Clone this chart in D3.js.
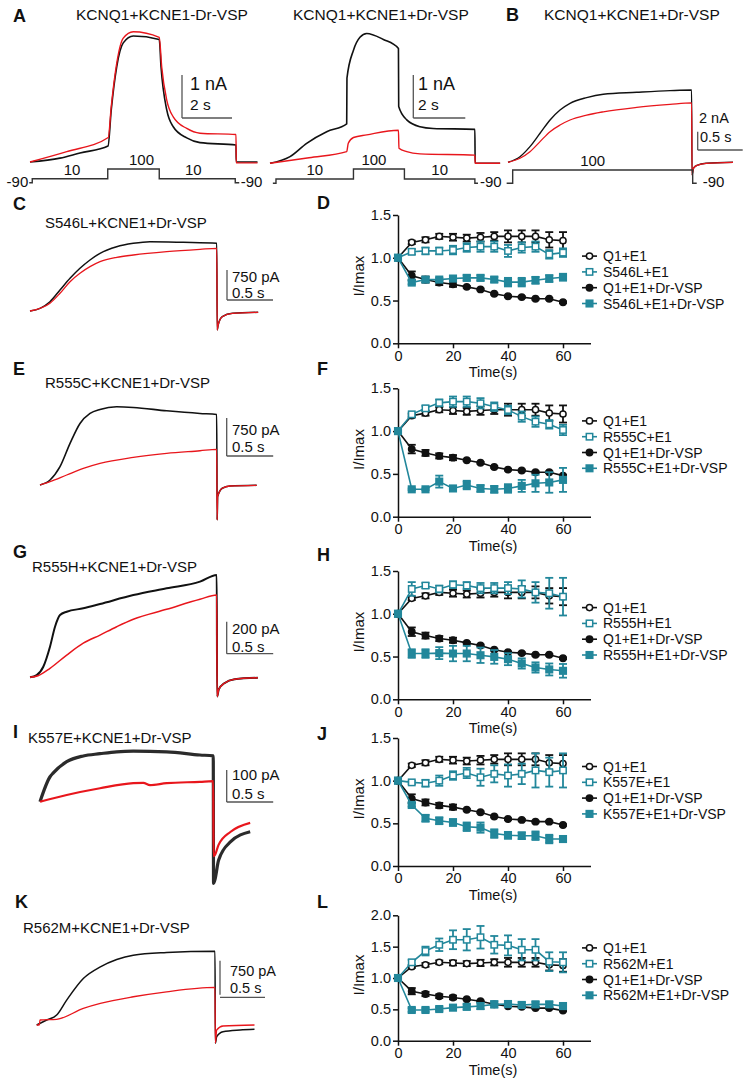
<!DOCTYPE html>
<html><head><meta charset="utf-8">
<script src="https://cdn.jsdelivr.net/npm/d3@7"></script>
<style>
body{margin:0;background:#fff}
svg text{font-family:"Liberation Sans",Arial,Helvetica,sans-serif;fill:#111}
</style></head>
<body><svg id="fig" width="748" height="1081"></svg>
<script>
// ---------------- DATA: summary plots (I/Imax vs time) ----------------
const timePoints = [0,5,10,15,20,25,30,35,40,45,50,55,60];
const xTicks = [0,20,40,60];
const yTicks15 = [0,0.5,1.0,1.5];
const yTicks20 = [0,0.5,1.0,1.5,2.0];

const q1e1Mean = [1.0,1.18,1.21,1.25,1.24,1.23,1.24,1.25,1.25,1.25,1.25,1.21,1.20];
const q1e1Err  = [0,0.02,0.03,0.03,0.04,0.04,0.05,0.05,0.07,0.07,0.07,0.09,0.10];
const q1VspMean = [1.0,0.79,0.745,0.71,0.69,0.66,0.63,0.58,0.55,0.54,0.52,0.52,0.48];
const q1VspErr  = [0,0.05,0.035,0.03,0.03,0.01,0.01,0.01,0.01,0.01,0.01,0.01,0.01];

const s546lE1Mean = [1.0,1.07,1.08,1.08,1.09,1.12,1.13,1.13,1.08,1.12,1.13,1.04,1.06];
const s546lE1Err  = [0,0.03,0.04,0.04,0.05,0.05,0.06,0.06,0.07,0.06,0.06,0.05,0.05];
const s546lVspMean = [1.0,0.71,0.745,0.745,0.757,0.765,0.765,0.745,0.715,0.715,0.737,0.757,0.773];
const s546lVspErr  = [0,0.02,0.03,0.02,0.03,0.03,0.03,0.03,0.05,0.05,0.04,0.04,0.04];

const r555cE1Mean = [1.0,1.196,1.266,1.33,1.344,1.344,1.325,1.285,1.247,1.169,1.11,1.079,1.013];
const r555cE1Err  = [0,0.02,0.03,0.04,0.06,0.06,0.06,0.05,0.05,0.06,0.06,0.05,0.06];
const r555cVspMean = [1.0,0.32,0.32,0.41,0.33,0.37,0.33,0.32,0.33,0.36,0.39,0.40,0.43];
const r555cVspErr  = [0,0.01,0.01,0.07,0.03,0.05,0.04,0.04,0.05,0.07,0.10,0.12,0.14];

const r555hE1Mean = [1.0,1.29,1.33,1.29,1.34,1.33,1.30,1.30,1.30,1.29,1.25,1.24,1.20];
const r555hE1Err  = [0,0.08,0.03,0.04,0.04,0.04,0.06,0.06,0.07,0.10,0.12,0.18,0.22];
const r555hVspMean = [1.0,0.535,0.535,0.54,0.535,0.535,0.515,0.496,0.469,0.419,0.372,0.349,0.333];
const r555hVspErr  = [0,0.05,0.05,0.07,0.09,0.09,0.09,0.08,0.07,0.06,0.06,0.07,0.08];

const k557eE1Mean = [1.0,0.98,0.97,1.0,1.06,1.09,1.04,1.08,1.06,1.08,1.12,1.10,1.12];
const k557eE1Err  = [0,0.02,0.04,0.06,0.05,0.06,0.10,0.10,0.13,0.12,0.20,0.17,0.20];
const k557eVspMean = [1.0,0.715,0.56,0.53,0.51,0.46,0.45,0.38,0.36,0.355,0.355,0.316,0.316];
const k557eVspErr  = [0,0.02,0.04,0.04,0.04,0.05,0.06,0.05,0.04,0.04,0.05,0.05,0.03];

const r562mE1Mean = [1.0,1.25,1.43,1.53,1.61,1.61,1.65,1.53,1.52,1.45,1.45,1.26,1.25];
const r562mE1Err  = [0,0.04,0.07,0.10,0.15,0.17,0.18,0.14,0.16,0.17,0.17,0.15,0.16];
const r562mVspMean = [1.0,0.49,0.49,0.505,0.527,0.54,0.553,0.58,0.585,0.57,0.58,0.58,0.553];
const r562mVspErr  = [0,0.03,0.03,0.03,0.04,0.04,0.05,0.05,0.05,0.04,0.04,0.04,0.05];

// ---------------- DATA: current traces [time (s), current] ----------------
// A (nA)
const traceA1Black = [[0,0],[1.2,0.09],[2,0.21],[3.12,0.37],[3.25,1.21],[3.47,2.22],[3.73,2.77],[4.13,2.93],[5.17,2.85],[5.24,2.22],[5.47,1.21],[5.73,0.82],[6.27,0.56],[6.8,0.45],[8.24,0.395],[8.25,0],[9.1,0]];
const traceA1Red   = [[0,0],[1.47,0.24],[3.13,0.57],[3.25,1.29],[3.47,2.3],[3.73,2.88],[4.13,3.03],[5.17,2.9],[5.27,2.2],[5.47,1.44],[5.73,1.05],[6.27,0.78],[6.8,0.67],[8.24,0.64],[8.25,-0.02],[9.1,-0.02]];
const traceA2Black = [[0,0],[0.77,0.155],[1.41,0.465],[2.18,0.735],[2.95,0.915],[2.96,1.98],[3.21,2.63],[3.46,2.93],[3.72,3.02],[4.36,2.88],[4.94,2.67],[4.95,1.32],[5.26,1.01],[5.77,0.85],[6.27,0.81],[7.88,0.79],[7.89,0],[8.85,0]];
const traceA2Red   = [[0,0],[1.5,0.13],[2.95,0.27],[3.01,0.465],[3.21,0.6],[3.72,0.66],[4.94,0.77],[4.96,0.35],[5.26,0.27],[5.77,0.22],[7.88,0.19],[7.89,0],[8.85,0]];
// B (nA)
const traceBBlack = [[0,0],[0.133,0.61],[0.244,1.71],[0.356,3.17],[0.467,4.62],[0.578,5.71],[0.689,6.44],[0.874,7.07],[1.059,7.44],[1.43,7.65],[1.8,7.83],[2.04,7.9],[2.045,-1.4],[2.06,-0.66],[2.1,-0.33],[2.2,-0.11],[2.5,0]];
const traceBRed   = [[0,0],[0.133,0.44],[0.244,1.16],[0.356,2.26],[0.467,3.35],[0.578,4.07],[0.689,4.62],[0.874,5.16],[1.059,5.52],[1.43,6.0],[1.8,6.33],[2.04,6.5],[2.045,-1.4],[2.06,-0.66],[2.1,-0.33],[2.2,-0.11],[2.5,0]];
// C (pA)
const traceCBlack = [[0,0],[0.109,67],[0.217,233],[0.326,525],[0.435,818],[0.543,1067],[0.652,1275],[0.761,1442],[0.942,1608],[1.123,1692],[1.304,1733],[1.667,1717],[2.03,1692],[2.035,-475],[2.045,-350],[2.09,-142],[2.2,-58],[2.48,-33]];
const traceCRed   = [[0,0],[0.217,193],[0.326,443],[0.435,733],[0.543,943],[0.652,1108],[0.761,1233],[0.942,1342],[1.123,1400],[1.486,1483],[1.848,1542],[2.03,1567],[2.035,-475],[2.045,-350],[2.09,-142],[2.2,-58],[2.48,-33]];
// E (pA)
const traceEBlack = [[0,0],[0.108,99],[0.215,361],[0.323,821],[0.43,1215],[0.538,1412],[0.645,1491],[0.824,1543],[1.003,1531],[1.362,1464],[1.72,1412],[1.9,1393],[1.905,-690],[1.91,-230],[1.96,-65],[2.04,-20],[2.33,-6]];
const traceERed   = [[0,0],[0.108,65],[0.287,197],[0.466,328],[0.645,427],[1.003,545],[1.362,624],[1.72,676],[1.9,703],[1.905,-690],[1.91,-230],[1.96,-65],[2.04,-20],[2.33,-6]];
// G (pA)
const traceGBlack = [[0,0],[0.072,14],[0.143,66],[0.215,191],[0.269,316],[0.323,389],[0.395,410],[0.573,431],[0.753,458],[1.111,514],[1.469,556],[1.828,598],[2.008,640],[2.012,-120],[2.03,-75],[2.09,-37],[2.2,-12],[2.45,-3]];
const traceGRed   = [[0,0],[0.086,10],[0.215,56],[0.395,139],[0.573,213],[0.753,264],[0.932,316],[1.111,363],[1.469,425],[1.828,488],[2.008,514],[2.012,-120],[2.03,-75],[2.09,-37],[2.2,-12],[2.45,-3]];
// I (pA)
const traceIBlack = [[0,0],[0.108,78],[0.143,90],[0.287,125],[0.466,143],[0.645,150],[0.824,156],[1.003,158],[1.362,156],[1.72,146],[1.863,143],[1.866,-255],[1.88,-245],[1.92,-183],[2.05,-125],[2.26,-94]];
const traceIRed   = [[0,0],[0.287,21],[0.645,42],[1.003,58],[1.111,59],[1.183,52],[1.362,58],[1.72,62],[1.863,64],[1.866,-170],[1.88,-167],[1.92,-135],[2.05,-94],[2.26,-66]];
// K (pA)
const traceKBlack = [[0,0],[0.111,110],[0.222,220],[0.333,550],[0.518,1027],[0.707,1283],[0.889,1445],[1.073,1540],[1.443,1599],[1.981,1628],[1.985,-400],[2.0,-257],[2.07,-147],[2.26,-110],[2.42,-95]];
const traceKRed   = [[0,0],[0.03,5],[0.037,110],[0.222,125],[0.518,367],[0.707,477],[1.073,623],[1.443,733],[1.981,829],[1.985,-400],[2.0,-110],[2.07,-22],[2.42,0]];

// voltage protocols [time (s), mV]
const protocolA1 = [[-0.03,-90],[0.09,10],[3.11,100],[5.17,10],[8.21,-90],[8.37,-90]];
const protocolA2 = [[0.11,-90],[0.23,10],[3.21,100],[5.17,10],[7.88,-90],[8.0,-90]];
const protocolB  = [[-0.015,-90],[0.052,100],[2.052,-90],[2.097,-90]];

// ---------------- DRAWING ----------------
const svg = d3.select('#fig');
const BLACK = '#111111', RED = '#e8161c', TEAL = '#22879b', BAR = '#555555';

function txt(s, x, y, size, opts = {}) {
  const t = svg.append('text').attr('x', x).attr('y', y).attr('font-size', size).text(s);
  if (opts.anchor) t.attr('text-anchor', opts.anchor);
  if (opts.bold) t.attr('font-weight', 'bold');
  return t;
}

// panel letters
[['A',13,22],['B',506,21],['C',13,210],['D',317,209],['E',13,375],['F',317,375],
 ['G',13,558],['H',317,561],['I',13,738],['J',317,740],['K',15,908],['L',317,908]]
 .forEach(d => txt(d[0], d[1], d[2], 18, {bold:true}));

// trace titles
txt('KCNQ1+KCNE1-Dr-VSP', 76, 20, 15.5);
txt('KCNQ1+KCNE1+Dr-VSP', 293, 20, 15.5);
txt('KCNQ1+KCNE1+Dr-VSP', 544, 20, 15.5);
txt('S546L+KCNE1+Dr-VSP', 45, 228, 15);
txt('R555C+KCNE1+Dr-VSP', 45, 388, 15);
txt('R555H+KCNE1+Dr-VSP', 32, 572, 15);
txt('K557E+KCNE1+Dr-VSP', 28, 743, 15);
txt('R562M+KCNE1+Dr-VSP', 23, 933, 15);

function tracePanel(cfg) {
  const x = d3.scaleLinear().domain([0, 1]).range([cfg.x0, cfg.x0 + cfg.pps]);
  const y = d3.scaleLinear().domain([0, 1]).range([cfg.baseY, cfg.baseY - cfg.ppu]);
  const line = d3.line().x(d => x(d[0])).y(d => y(d[1])).curve(d3.curveMonotoneX);
  cfg.traces.forEach(tr => {
    svg.append('path').attr('d', line(tr.data)).attr('fill', 'none')
      .attr('stroke', tr.color).attr('stroke-width', tr.width)
      .attr('stroke-opacity', tr.opacity || 1).attr('stroke-linejoin', 'round');
  });
  const b = cfg.bar;
  const vLen = y(0) - y(b.amp);
  const hLen = x(b.sec) - x(0);
  svg.append('line').attr('x1', b.vx).attr('x2', b.vx).attr('y1', b.vTop).attr('y2', b.vTop + vLen)
    .attr('stroke', BAR).attr('stroke-width', 1.3);
  const hy = b.hy !== undefined ? b.hy : b.vTop + vLen;
  svg.append('line').attr('x1', b.vx).attr('x2', b.vx + hLen).attr('y1', hy).attr('y2', hy)
    .attr('stroke', BAR).attr('stroke-width', 1.3);
  txt(b.ampLabel, b.tx, b.ay, b.asize);
  txt(b.secLabel, b.tx2 || b.tx, b.sy, b.ssize);
}

function protocol(cfg) {
  const x = d3.scaleLinear().domain([0, 1]).range([cfg.x0, cfg.x0 + cfg.pps]);
  const y = d3.scaleOrdinal().domain([-90, 10, 100]).range(cfg.levels);
  const line = d3.line().x(d => x(d[0])).y(d => y(d[1])).curve(d3.curveStepAfter);
  svg.append('path').attr('d', line(cfg.steps)).attr('fill', 'none')
    .attr('stroke', '#333').attr('stroke-width', 1.4);
  let k = 0;
  for (let i = 0; i < cfg.steps.length - 1; i++) {
    const v = cfg.steps[i][1];
    if (v === -90) continue;
    const mid = (x(cfg.steps[i][0]) + x(cfg.steps[i + 1][0])) / 2 + (cfg.dx[k++] || 0);
    txt(String(v), mid, y(v) - 4, 15, {anchor: 'middle'});
  }
  const first = cfg.steps[0], last = cfg.steps[cfg.steps.length - 1];
  if (cfg.leftLabel) txt('-90', x(first[0]) - 1, 187, 15, {anchor: 'end'});
  if (cfg.rightLabel) txt('-90', x(last[0]) + cfg.rightGap, 187, 15);
}

// Panel A / B traces
tracePanel({x0:30, pps:25, baseY:162, ppu:43,
  traces:[{data:traceA1Black,color:BLACK,width:1.6},{data:traceA1Red,color:RED,width:1.4}],
  bar:{vx:182, vTop:75, amp:1, sec:2, ampLabel:'1 nA', secLabel:'2 s', tx:190, ay:90, asize:18, sy:110, ssize:15.5}});
tracePanel({x0:270, pps:26, baseY:163.3, ppu:43,
  traces:[{data:traceA2Black,color:BLACK,width:1.6},{data:traceA2Red,color:RED,width:1.4}],
  bar:{vx:413.3, vTop:75, amp:1, sec:2, ampLabel:'1 nA', secLabel:'2 s', tx:418, ay:90, asize:18, sy:110, ssize:15.5}});
tracePanel({x0:508, pps:90, baseY:162.3, ppu:9.15,
  traces:[{data:traceBBlack,color:BLACK,width:1.4},{data:traceBRed,color:RED,width:1.3}],
  bar:{vx:697.7, vTop:131.7, amp:2, sec:0.5, ampLabel:'2 nA', secLabel:'0.5 s', tx:699, ay:123, asize:14.5, tx2:700, sy:141.7, ssize:14.5}});

protocol({x0:30, pps:25, levels:[182.7,178.7,169], steps:protocolA1, dx:[2,8,-4], leftLabel:true, rightLabel:true, rightGap:1.5});
protocol({x0:270, pps:26, levels:[183.3,179,169], steps:protocolA2, dx:[0,-5,0], leftLabel:false, rightLabel:true, rightGap:2});
protocol({x0:508, pps:90, levels:[183.3,179,170], steps:protocolB, dx:[-10], leftLabel:false, rightLabel:true, rightGap:6});

// Panels C, E, G, I, K
tracePanel({x0:30, pps:92, baseY:311, ppu:30/750,
  traces:[{data:traceCBlack,color:BLACK,width:1.5},{data:traceCRed,color:RED,width:1.3}],
  bar:{vx:227, vTop:270, amp:750, sec:0.5, ampLabel:'750 pA', secLabel:'0.5 s', tx:232, ay:282, asize:15, sy:297.5, ssize:15}});
tracePanel({x0:40, pps:93, baseY:485, ppu:38/750,
  traces:[{data:traceEBlack,color:BLACK,width:1.6},{data:traceERed,color:RED,width:1.3}],
  bar:{vx:226.7, vTop:418, amp:750, sec:0.5, ampLabel:'750 pA', secLabel:'0.5 s', tx:232, ay:435, asize:15, sy:451.7, ssize:15}});
tracePanel({x0:30, pps:93, baseY:677.3, ppu:32/200,
  traces:[{data:traceGBlack,color:BLACK,width:2},{data:traceGRed,color:RED,width:1.5}],
  bar:{vx:226.7, vTop:621.7, amp:200, sec:0.5, ampLabel:'200 pA', secLabel:'0.5 s', tx:232, ay:634, asize:15, sy:651.7, ssize:15}});
tracePanel({x0:40, pps:93, baseY:801.7, ppu:32/100,
  traces:[{data:traceIBlack,color:'#2b2b2b',width:3.2},{data:traceIRed,color:RED,width:2.2}],
  bar:{vx:226.7, vTop:770, amp:100, sec:0.5, ampLabel:'100 pA', secLabel:'0.5 s', tx:232, ay:780, asize:15, sy:799.3, ssize:15}});
tracePanel({x0:36.7, pps:90, baseY:1025, ppu:34/750,
  traces:[{data:traceKBlack,color:BLACK,width:1.5},{data:traceKRed,color:RED,width:1.3}],
  bar:{vx:220, vTop:960.7, hy:997.3, amp:750, sec:0.5, ampLabel:'750 pA', secLabel:'0.5 s', tx:230, ay:975.5, asize:14.5, sy:992.5, ssize:14.5}});

// ---------------- summary plots ----------------
function marker(g, cx, cy, shape, filled, color) {
  if (shape === 'circle') {
    g.append('circle').attr('cx', cx).attr('cy', cy).attr('r', filled ? 3.2 : 3.1)
      .attr('fill', filled ? color : '#fff').attr('stroke', color).attr('stroke-width', 1.5);
  } else {
    const s = filled ? 6.6 : 6.4;
    g.append('rect').attr('x', cx - s / 2).attr('y', cy - s / 2).attr('width', s).attr('height', s)
      .attr('fill', filled ? color : '#fff').attr('stroke', color).attr('stroke-width', 1.5);
  }
}

function dataPanel(cfg) {
  const g = svg.append('g');
  const x = d3.scaleLinear().domain([0, 70]).range([398, 590.5]);
  const y = d3.scaleLinear().domain([0, cfg.yMax]).range([cfg.y0, cfg.yTop]);
  const ax = g.append('g').attr('transform', `translate(0,${cfg.y0})`)
    .call(d3.axisBottom(x).tickValues(xTicks).tickSize(5).tickSizeOuter(0).tickPadding(2));
  const ay = g.append('g').attr('transform', 'translate(398,0)')
    .call(d3.axisLeft(y).tickValues(cfg.yTicks).tickFormat(d3.format('.1f')).tickSize(5).tickSizeOuter(0).tickPadding(2));
  [ax, ay].forEach(a => {
    a.selectAll('path,line').attr('stroke', '#111').attr('stroke-width', 1.5);
    a.selectAll('text').attr('font-size', 14.5).attr('fill', '#111')
      .attr('font-family', '"Liberation Sans",Arial,sans-serif');
  });
  g.append('text').attr('x', 493).attr('y', cfg.y0 + 34).attr('text-anchor', 'middle')
    .attr('font-size', 14.5).text('Time(s)');
  g.append('text').attr('transform', `translate(364,${(cfg.y0 + cfg.yTop) / 2 - 3}) rotate(-90)`)
    .attr('text-anchor', 'middle').attr('font-size', 15).text('I/Imax');

  const line = d3.line().x((d, i) => x(timePoints[i])).y(d => y(d));
  cfg.series.forEach(s => {
    g.append('path').attr('d', line(s.mean)).attr('fill', 'none')
      .attr('stroke', s.color).attr('stroke-width', 1.6);
    s.mean.forEach((m, i) => {
      const e = s.err[i];
      if (!e) return;
      const cx = x(timePoints[i]);
      g.append('line').attr('x1', cx).attr('x2', cx).attr('y1', y(m - e)).attr('y2', y(m + e))
        .attr('stroke', s.color).attr('stroke-width', 1.8);
      [m - e, m + e].forEach(v => g.append('line').attr('x1', cx - 4).attr('x2', cx + 4)
        .attr('y1', y(v)).attr('y2', y(v)).attr('stroke', s.color).attr('stroke-width', 1.8));
    });
    s.mean.forEach((m, i) => marker(g, x(timePoints[i]), y(m), s.shape, s.filled, s.color));
  });
  const gap = 15.8;
  cfg.series.forEach((s, i) => {
    const ly = cfg.legendMid + (i - 1.5) * gap;
    g.append('line').attr('x1', 582).attr('x2', 597).attr('y1', ly).attr('y2', ly)
      .attr('stroke', s.color).attr('stroke-width', 1.6);
    marker(g, 589.5, ly, s.shape, s.filled, s.color);
    g.append('text').attr('x', 603).attr('y', ly).attr('dy', '0.36em').attr('font-size', 14).text(s.name);
  });
}

function seriesSet(mut, e1m, e1e, vm, ve) {
  return [
    {name:'Q1+E1', mean:q1e1Mean, err:q1e1Err, color:BLACK, shape:'circle', filled:false},
    {name:mut + '+E1', mean:e1m, err:e1e, color:TEAL, shape:'square', filled:false},
    {name:'Q1+E1+Dr-VSP', mean:q1VspMean, err:q1VspErr, color:BLACK, shape:'circle', filled:true},
    {name:mut + '+E1+Dr-VSP', mean:vm, err:ve, color:TEAL, shape:'square', filled:true}
  ];
}

dataPanel({y0:343.3, yTop:215, yMax:1.5, yTicks:yTicks15, legendMid:279.8,
  series:seriesSet('S546L', s546lE1Mean, s546lE1Err, s546lVspMean, s546lVspErr)});
dataPanel({y0:516.7, yTop:388.3, yMax:1.5, yTicks:yTicks15, legendMid:444.6,
  series:seriesSet('R555C', r555cE1Mean, r555cE1Err, r555cVspMean, r555cVspErr)});
dataPanel({y0:699.3, yTop:571, yMax:1.5, yTicks:yTicks15, legendMid:631.3,
  series:seriesSet('R555H', r555hE1Mean, r555hE1Err, r555hVspMean, r555hVspErr)});
dataPanel({y0:866, yTop:738, yMax:1.5, yTicks:yTicks15, legendMid:790.2,
  series:seriesSet('K557E', k557eE1Mean, k557eE1Err, k557eVspMean, k557eVspErr)});
dataPanel({y0:1040.7, yTop:915.3, yMax:2.0, yTicks:yTicks20, legendMid:971.6,
  series:seriesSet('R562M', r562mE1Mean, r562mE1Err, r562mVspMean, r562mVspErr)});
</script></body></html>
